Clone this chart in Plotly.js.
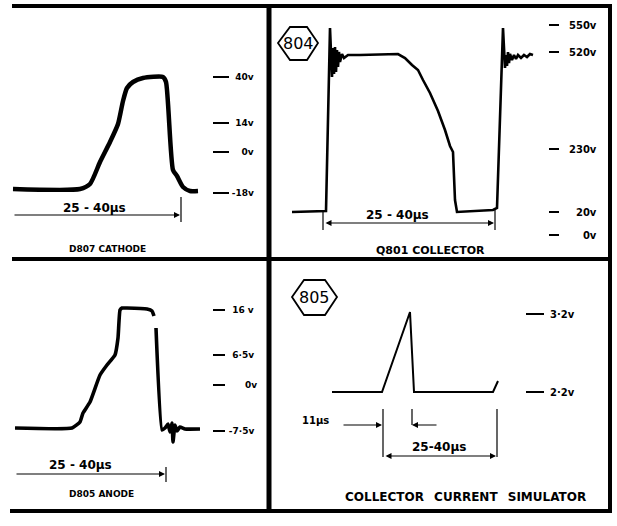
<!DOCTYPE html>
<html><head><meta charset="utf-8">
<script src="https://cdn.plot.ly/plotly-3.0.1.min.js"></script>
<style>html,body{margin:0;padding:0;background:#fff}</style>
</head><body><div id="chart" style="width:617px;height:526px"></div>
<script>
// ---- Data (screen divisions) ----
// D807 cathode
const cathodeT = [1.3, 8.0, 9.0, 10.0, 11.0, 11.8, 12.3, 12.7, 13.3, 14.3, 16.3, 16.6, 17.3, 17.7, 18.3, 19.0, 19.8];
const cathodeV = [6.9, 6.9, 7.4, 9.6, 11.6, 13.4, 15.7, 17.0, 17.6, 18.0, 18.1, 17.6, 8.8, 8.2, 7.1, 6.7, 6.7];
const cathodeLevelPos = [18.1, 13.5, 10.6, 6.5];
const cathodeLevelText = ['\u200840v', '\u200814v', '\u2008\u20070v', '-18v'];

// Q801 collector
const collectorT = [2.0, 5.1, 5.4, 5.8, 5.9, 6.0, 6.1, 6.2, 6.3, 6.4, 6.5, 6.6, 6.7, 6.8, 7.0, 7.2, 7.6, 8.8, 12.6, 13.3, 14.0, 14.6, 15.1, 15.8, 16.6, 17.3, 17.8, 18.1, 18.3, 18.5, 22.1, 22.5, 23.1, 23.2, 23.3, 23.4, 23.5, 23.6, 23.7, 23.8, 24.0, 24.2, 24.4, 24.6, 24.9, 25.2, 25.5, 25.8, 26.1];
const collectorV = [4.6, 4.7, 4.7, 23.0, 19.8, 18.1, 21.0, 18.4, 21.1, 18.6, 20.8, 19.1, 20.6, 19.6, 20.4, 20.0, 20.3, 20.3, 20.4, 20.0, 19.3, 18.8, 17.8, 16.5, 14.7, 12.8, 11.2, 10.6, 5.8, 4.6, 4.8, 5.0, 23.0, 20.8, 19.0, 20.3, 19.2, 20.6, 19.5, 20.4, 19.8, 20.3, 19.9, 20.3, 20.0, 20.3, 20.1, 20.4, 20.3];
const collectorLevelPos = [23.3, 20.6, 10.9, 4.6, 2.3];
const collectorLevelText = ['550v', '520v', '230v', '\u200720v', '\u2007\u20070v'];

// D805 anode
const anodeT = [1.5, 7.2, 8.0, 8.3, 9.0, 10.0, 10.7, 11.5, 11.8, 12.0, 12.2, 12.7, 14.7, 15.2, 15.4, null, 15.6, 16.2, 16.5, 16.8, 17.0, 17.2, 17.3, 17.5, 17.7, 18.0, 18.5, 20.0];
const anodeV = [8.4, 8.4, 9.0, 9.9, 11.0, 13.7, 14.7, 15.7, 17.4, 20.2, 20.4, 20.4, 20.3, 20.1, 19.6, null, 18.4, 8.2, 8.4, 8.8, 8.0, 8.9, 7.0, 8.7, 8.1, 8.5, 8.3, 8.3];
const anodeLevelPos = [20.2, 15.7, 12.7, 8.1];
const anodeLevelText = ['\u200816 v', '\u20086\u00b75v', '\u2008\u2007\u2008 0v', '-7\u00b75v'];

// Collector current simulator
const simT = [6.0, 11.0, 13.8, 14.2, 22.1, 22.6];
const simV = [12.0, 12.0, 20.0, 12.0, 12.0, 13.1];
const simLevelPos = [19.8, 12.0];
const simLevelText = ['3\u00b72v', '2\u00b72v'];

const panelTitles = ['D807 CATHODE', 'Q801 COLLECTOR', 'D805 ANODE', 'COLLECTOR\u2002 CURRENT\u2002 SIMULATOR'];
const spanLabel = '25 - 40\u00b5s';
const shortSpanLabel = '11\u00b5s';
const tagLabels = ['804', '805'];

// ---- Layout helpers (pixel -> paper) ----
const W = 617, H = 526;
const X = px => px / W;
const Y = py => 1 - py / H;
const FONT = 'DejaVu Sans, Liberation Sans, sans-serif';

function yAx(dom, pos, text, len, size, standoff) {
  return {
    domain: dom, range: [0, 25], side: 'right', ticks: 'outside', ticklen: len, tickwidth: 1.6,
    tickcolor: '#000', tickvals: pos, ticktext: text, showgrid: false, zeroline: false, showline: false,
    ticklabelstandoff: standoff, tickfont: {family: FONT, size: size, color: '#000', weight: 'bold'},
    fixedrange: true
  };
}
function xAx(dom, max) {
  return {domain: dom, range: [0, max], visible: false, fixedrange: true};
}

const traces = [
  {x: cathodeT, y: cathodeV, xaxis: 'x', yaxis: 'y', mode: 'lines', line: {color: '#000', width: 4.5, shape: 'spline', smoothing: 0.6}, hoverinfo: 'skip'},
  {x: collectorT, y: collectorV, xaxis: 'x2', yaxis: 'y2', mode: 'lines', line: {color: '#000', width: 2.6}, hoverinfo: 'skip'},
  {x: anodeT, y: anodeV, xaxis: 'x3', yaxis: 'y3', mode: 'lines', line: {color: '#000', width: 3.6, shape: 'spline', smoothing: 0.4}, connectgaps: false, hoverinfo: 'skip'},
  {x: simT, y: simV, xaxis: 'x4', yaxis: 'y4', mode: 'lines', line: {color: '#000', width: 2}, hoverinfo: 'skip'}
];

const frame = {type: 'line', xref: 'paper', yref: 'paper', line: {color: '#000', width: 4}};
const shapes = [
  Object.assign({}, frame, {x0: X(12), y0: Y(6), x1: X(612), y1: Y(6)}),
  Object.assign({}, frame, {x0: X(610), y0: Y(5), x1: X(610), y1: Y(512)}),
  Object.assign({}, frame, {x0: X(269), y0: Y(5), x1: X(269), y1: Y(512), line: {color: '#000', width: 5}}),
  Object.assign({}, frame, {x0: X(12), y0: Y(259), x1: X(612), y1: Y(259)}),
  Object.assign({}, frame, {x0: X(10), y0: Y(511), x1: X(612), y1: Y(511)}),
  // dimension end bars
  {type: 'line', xref: 'x', yref: 'y', x0: 18.1, x1: 18.1, y0: 6.1, y1: 3.6, line: {color: '#000', width: 1.2}},
  {type: 'line', xref: 'x2', yref: 'y2', x0: 5.1, x1: 5.1, y0: 4.8, y1: 2.8, line: {color: '#000', width: 1.2}},
  {type: 'line', xref: 'x2', yref: 'y2', x0: 22.3, x1: 22.3, y0: 4.8, y1: 2.8, line: {color: '#000', width: 1.2}},
  {type: 'line', xref: 'x3', yref: 'y3', x0: 16.6, x1: 16.6, y0: 4.5, y1: 3.0, line: {color: '#000', width: 1.2}},
  {type: 'line', xref: 'x4', yref: 'y4', x0: 11.1, x1: 11.1, y0: 10.3, y1: 5.5, line: {color: '#000', width: 1.2}},
  {type: 'line', xref: 'x4', yref: 'y4', x0: 22.5, x1: 22.5, y0: 10.3, y1: 5.5, line: {color: '#000', width: 1.2}},
  {type: 'line', xref: 'x4', yref: 'y4', x0: 14.0, x1: 14.0, y0: 10.3, y1: 8.7, line: {color: '#000', width: 1.2}},
  // hexagon tags
  {type: 'path', xref: 'x2', yref: 'y2', path: 'M0.6,21.5 L1.8,23.1 L3.5,23.1 L4.6,21.5 L3.5,19.8 L1.8,19.8 Z', line: {color: '#000', width: 1.8}},
  {type: 'path', xref: 'x4', yref: 'y4', path: 'M2.0,21.5 L3.2,23.2 L5.3,23.2 L6.5,21.5 L5.3,19.7 L3.2,19.7 Z', line: {color: '#000', width: 1.8}}
];

function txt(xr, yr, x, y, text, size, bold) {
  return {xref: xr, yref: yr, x: x, y: y, text: text, showarrow: false, xanchor: 'center', yanchor: 'middle',
          font: {family: FONT, size: size, color: '#000', weight: bold ? 'bold' : 'normal'}};
}
function arrow(xr, yr, x, y, ax, ay, both) {
  return {xref: xr, yref: yr, axref: xr, ayref: yr, x: x, y: y, ax: ax, ay: ay, text: '', showarrow: true,
          arrowhead: 2, startarrowhead: 2, arrowside: both ? 'end+start' : 'end', arrowsize: 1, startarrowsize: 1,
          arrowwidth: 1.2, arrowcolor: '#000', standoff: 0, startstandoff: 0};
}

const annotations = [
  txt('x', 'y', 9.4, 5.0, spanLabel, 12, true),
  txt('x', 'y', 10.7, 0.9, panelTitles[0], 9, true),
  arrow('x', 'y', 18.0, 4.3, 1.3, 4.3, false),

  txt('x2', 'y2', 12.5, 4.3, spanLabel, 12, true),
  txt('x2', 'y2', 15.8, 0.8, panelTitles[1], 11, true),
  arrow('x2', 'y2', 22.2, 3.5, 5.2, 3.5, true),
  txt('x2', 'y2', 2.6, 21.45, tagLabels[0], 16, false),

  txt('x3', 'y3', 8.0, 4.7, spanLabel, 12, true),
  txt('x3', 'y3', 10.1, 1.8, panelTitles[2], 9, true),
  arrow('x3', 'y3', 16.5, 3.8, 1.5, 3.8, false),

  txt('x4', 'y4', 4.3, 9.1, shortSpanLabel, 10, true),
  arrow('x4', 'y4', 11.0, 8.7, 7.0, 8.7, false),
  arrow('x4', 'y4', 14.0, 8.7, 16.6, 8.7, false),
  txt('x4', 'y4', 16.7, 6.5, spanLabel.replace(/ /g, ''), 12, true),
  arrow('x4', 'y4', 22.4, 5.6, 11.2, 5.6, true),
  txt('x4', 'y4', 4.25, 21.45, tagLabels[1], 16, false),
  txt('x4', 'y4', 19.3, 1.5, panelTitles[3], 12, true)
];

const layout = {
  width: W, height: H, margin: {l: 0, r: 0, t: 0, b: 0}, showlegend: false,
  paper_bgcolor: '#fff', plot_bgcolor: 'rgba(0,0,0,0)',
  xaxis: xAx([X(0), X(212)], 21.2),
  yaxis: Object.assign(yAx([Y(258), Y(8)], cathodeLevelPos, cathodeLevelText, 16, 9, 1), {anchor: 'x'}),
  xaxis2: Object.assign(xAx([X(272), X(548)], 27.6), {anchor: 'y2'}),
  yaxis2: Object.assign(yAx([Y(258), Y(8)], collectorLevelPos, collectorLevelText, 10, 10, 8), {anchor: 'x2'}),
  xaxis3: Object.assign(xAx([X(0), X(212)], 21.2), {anchor: 'y3'}),
  yaxis3: Object.assign(yAx([Y(512), Y(262)], anodeLevelPos, anodeLevelText, 12, 9, 2), {anchor: 'x3'}),
  xaxis4: Object.assign(xAx([X(272), X(525)], 25.3), {anchor: 'y4'}),
  yaxis4: Object.assign(yAx([Y(512), Y(262)], simLevelPos, simLevelText, 18, 10, 4), {anchor: 'x4'}),
  shapes: shapes, annotations: annotations
};

Plotly.newPlot('chart', traces, layout, {staticPlot: true, displayModeBar: false});
</script></body></html>
